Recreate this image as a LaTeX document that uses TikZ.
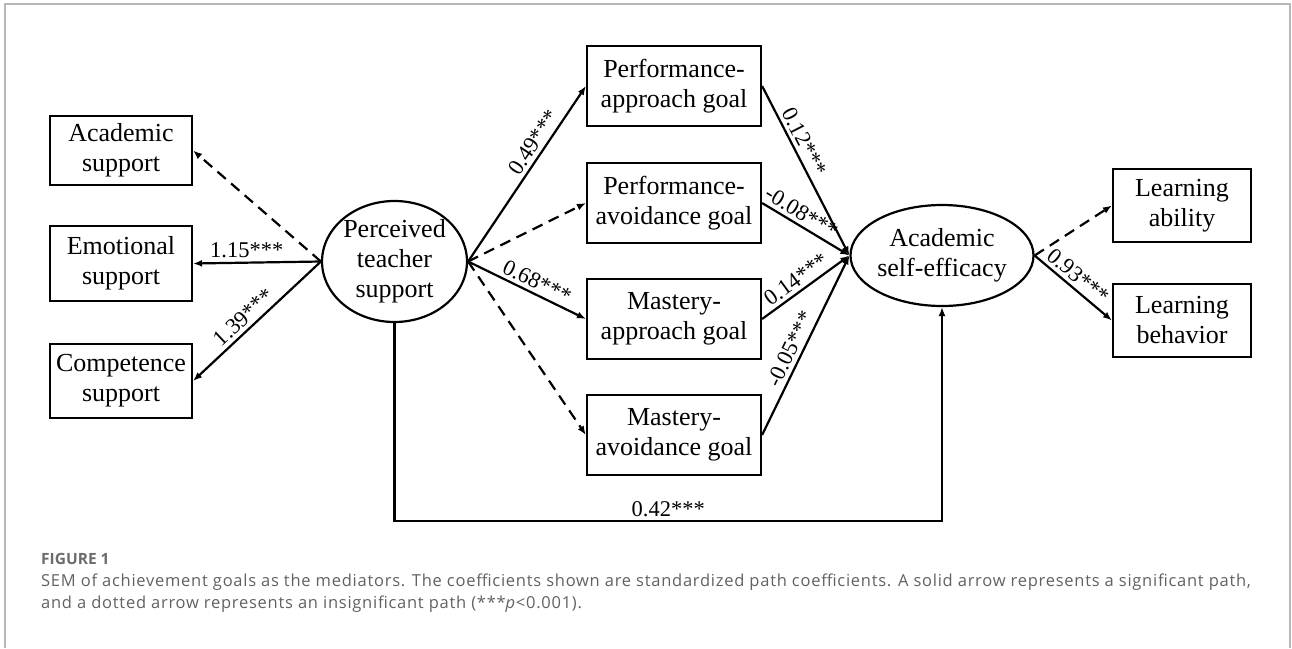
\documentclass[tikz,border=0pt]{standalone}
\usepackage{fontspec}
\setmainfont{Liberation Serif}
\newfontfamily\capfont[LetterSpace=4.5]{Open Sans}
\newfontfamily\figfont{Open Sans}
\usetikzlibrary{arrows.meta,shapes.geometric,calc}
\begin{document}
\begin{tikzpicture}[x=1pt,y=-1pt,
  box/.style={draw,line width=2.2pt,align=center,inner sep=0pt,
    font=\fontsize{26}{30}\selectfont},
  lat/.style={draw,ellipse,line width=2.2pt,align=center,inner sep=0pt,
    font=\fontsize{26}{30}\selectfont},
  arr/.style={line width=2.2pt,-{Latex[length=9pt,width=7pt]}},
  dsh/.style={arr,dash pattern=on 11pt off 7pt},
  coef/.style={font=\fontsize{22.5}{26}\selectfont,inner sep=3.5pt},
  captext/.style={anchor=base west,inner sep=0pt,text=black!62,font=\capfont\fontsize{16.5}{23}\selectfont},
]
\useasboundingbox (0,0) rectangle (1292,648);
\draw[black!28,line width=1.2pt] (5,648) -- (5,4) -- (1290,4) -- (1290,648);

% left boxes
\node[box,minimum width=142pt,minimum height=69pt] (acad) at (121,150.5) {Academic\\support};
\node[box,minimum width=142pt,minimum height=75pt] (emo) at (121,263.5) {Emotional\\support};
\node[box,minimum width=142pt,minimum height=74pt] (comp) at (121,381) {Competence\\support};
% latent
\node[lat,minimum width=137pt,minimum height=121pt] (pts) at (394.5,261.5) {Perceived\\teacher\\support};
\node[lat,minimum width=136pt,minimum height=101pt] (ase) at (942,255.5) {Academic\\self-efficacy};
% goals
\node[box,minimum width=174pt,minimum height=80pt] (pap) at (674,86) {Performance-\\approach goal};
\node[box,minimum width=174pt,minimum height=80pt] (pav) at (674,203) {Performance-\\avoidance goal};
\node[box,minimum width=174pt,minimum height=80pt] (map) at (674,319) {Mastery-\\approach goal};
\node[box,minimum width=174pt,minimum height=80pt] (mav) at (674,435) {Mastery-\\avoidance goal};
% right boxes
\node[box,minimum width=138pt,minimum height=73pt] (la) at (1182,205.5) {Learning\\ability};
\node[box,minimum width=138pt,minimum height=73pt] (lb) at (1182,320.5) {Learning\\behavior};

% left arrows
\draw[dsh] (pts.west) -- (acad.east);
\draw[arr] (pts.west) -- node[coef,pos=0.58,above] {1.15***} (emo.east);
\draw[arr] (pts.west) -- node[coef,pos=0.54,sloped,above] {1.39***} (comp.east);
% to goals
\draw[arr] (pts.east) -- node[coef,pos=0.64,sloped,above] {0.49***} (pap.west);
\draw[dsh] (pts.east) -- (pav.west);
\draw[arr] (pts.east) -- node[coef,pos=0.54,sloped,above] {0.68***} (map.west);
\draw[dsh] (pts.east) -- (mav.west);
% goals to efficacy
\draw[arr] (pap.east) -- node[coef,pos=0.36,sloped,above] {0.12***} (ase.west);
\draw[arr] (pav.east) -- node[coef,pos=0.38,sloped,above] {-0.08***} (ase.west);
\draw[arr] (map.east) -- node[coef,pos=0.47,sloped,above] {0.14***} (ase.west);
\draw[arr] (mav.east) -- node[coef,pos=0.45,sloped,above] {-0.05***} (ase.west);
% efficacy to indicators
\draw[dsh] (ase.east) -- (la.west);
\draw[arr] (ase.east) -- node[coef,pos=0.46,sloped,above] {0.93***} (lb.west);
% direct path
\coordinate (dc) at (942,521);
\draw[arr] (pts.south) |- node[coef,pos=0.75,above] {0.42***} (dc) -- (ase.south);

% caption
\node[anchor=base west,inner sep=0pt,text=black!58,font=\figfont\bfseries\fontsize{15.5}{17}\selectfont] (fig) at (41,564) {FIGURE 1};
\node[captext] (cap1) at (41,586) {SEM of achievement goals as the mediators. The coefficients shown are standardized path coefficients. A solid arrow represents a significant path,};
\node[captext] (cap2) at (41,608) {and a dotted arrow represents an insignificant path (***\textit{p}<0.001).};
\end{tikzpicture}
\end{document}
